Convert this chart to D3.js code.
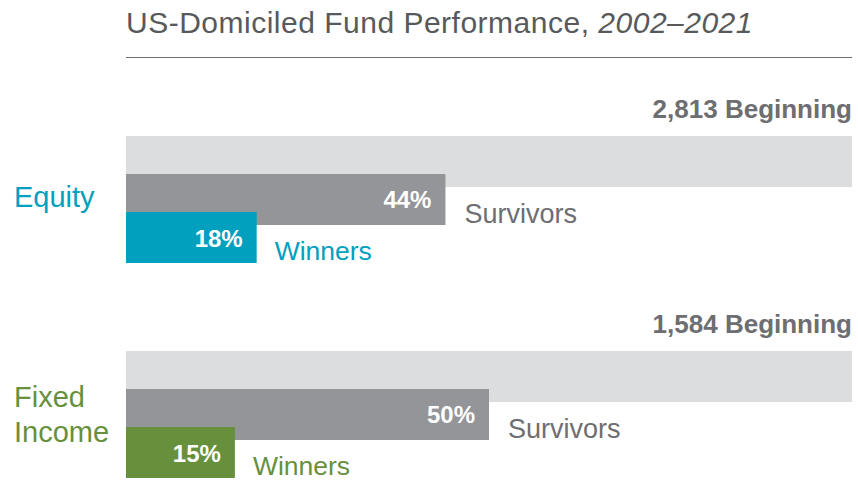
<!DOCTYPE html>
<html>
<head>
<meta charset="utf-8">
<script src="https://cdn.jsdelivr.net/npm/d3@7"></script>
<style>
  html, body { margin: 0; padding: 0; background: #fff; }
  svg { display: block; font-family: "Liberation Sans", Arial, sans-serif; }
</style>
</head>
<body>
<svg id="chart" width="858" height="486"></svg>
<script>
const titleMain = "US-Domiciled Fund Performance, ";
const titlePeriod = "2002–2021";
const categories = ["Equity", "Fixed Income"];
const categoryLines = [["Equity"], ["Fixed", "Income"]];
const beginningCounts = [2813, 1584];
const survivorsPct = [44, 50];
const winnersPct = [18, 15];
const categoryColors = ["#00a0be", "#67903d"];
const rows = ["Beginning", "Survivors", "Winners"];

const svg = d3.select("#chart");
const left = 126, right = 852;

const x = d3.scaleLinear().domain([0, 100]).range([left, right]);
const yGroup = d3.scaleBand().domain(categories).range([136, 566]).paddingInner(0).paddingOuter(0);
const yRow = d3.scalePoint().domain(rows).range([0, 76]);
const barH = 51;

// Title
const title = svg.append("text")
  .attr("x", left).attr("y", 33)
  .attr("font-size", 30).attr("letter-spacing", 0.5).attr("fill", "#58595b");
title.append("tspan").text(titleMain);
title.append("tspan").attr("font-style", "italic").text(titlePeriod);

svg.append("line")
  .attr("x1", left).attr("x2", right)
  .attr("y1", 57.5).attr("y2", 57.5)
  .attr("stroke", "#6d6e71").attr("stroke-width", 1);

const fmt = d3.format(",");

categories.forEach((cat, i) => {
  const g0 = yGroup(cat);
  const col = categoryColors[i];

  // Beginning label
  svg.append("text")
    .attr("x", right).attr("y", g0 - 18)
    .attr("text-anchor", "end")
    .attr("font-size", 26).attr("font-weight", "bold")
    .attr("fill", "#6d6e71")
    .text(fmt(beginningCounts[i]) + " Beginning");

  // Beginning bar (100%)
  svg.append("rect")
    .attr("x", x(0)).attr("y", g0 + yRow("Beginning"))
    .attr("width", x(100) - x(0)).attr("height", barH)
    .attr("fill", "#dcdddf");

  // Survivors bar
  const ys = g0 + yRow("Survivors");
  svg.append("rect")
    .attr("x", x(0)).attr("y", ys)
    .attr("width", x(survivorsPct[i]) - x(0)).attr("height", barH)
    .attr("fill", "#939598");
  svg.append("text")
    .attr("x", x(survivorsPct[i]) - 14).attr("y", ys + 34)
    .attr("text-anchor", "end")
    .attr("font-size", 24).attr("font-weight", "bold").attr("fill", "#fff")
    .text(survivorsPct[i] + "%");
  svg.append("text")
    .attr("x", x(survivorsPct[i]) + 19).attr("y", ys + 49)
    .attr("font-size", 27).attr("fill", "#6d6e71")
    .text("Survivors");

  // Winners bar
  const yw = g0 + yRow("Winners");
  svg.append("rect")
    .attr("x", x(0)).attr("y", yw)
    .attr("width", x(winnersPct[i]) - x(0)).attr("height", barH)
    .attr("fill", col);
  svg.append("text")
    .attr("x", x(winnersPct[i]) - 14).attr("y", yw + 35)
    .attr("text-anchor", "end")
    .attr("font-size", 24).attr("font-weight", "bold").attr("fill", "#fff")
    .text(winnersPct[i] + "%");
  svg.append("text")
    .attr("x", x(winnersPct[i]) + 18).attr("y", yw + 48)
    .attr("font-size", 26.5).attr("fill", col)
    .text("Winners");

  // Category label
  const lines = categoryLines[i];
  const lineH = 35;
  const centerBase = g0 + 71;
  const firstBase = centerBase - (lines.length - 1) * 15;
  const t = svg.append("text")
    .attr("font-size", 29).attr("fill", col);
  lines.forEach((ln, k) => {
    t.append("tspan").attr("x", 14).attr("y", firstBase + k * lineH).text(ln);
  });
});
</script>
</body>
</html>
